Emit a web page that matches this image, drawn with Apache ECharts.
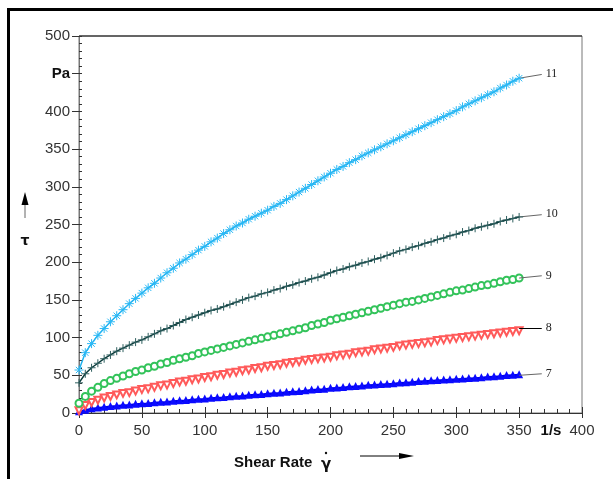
<!DOCTYPE html>
<html>
<head>
<meta charset="utf-8">
<script src="https://cdn.jsdelivr.net/npm/echarts@6/dist/echarts.min.js"></script>
<style>
  html, body { margin: 0; padding: 0; background: #fff; }
  #chart { width: 613px; height: 479px; }
</style>
</head>
<body>
<div id="chart"></div>
<script>
// shear rate, 1/s
var shearRate = [];
for (var i = 0; i <= 70; i++) shearRate.push(i * 5);

// shear stress, Pa
var tau11 = [57, 80, 92, 103, 112, 121, 129, 137, 145, 152, 159, 166, 172, 179, 186, 192, 199, 204, 210, 216,
  221, 227, 232, 238, 243, 248, 252, 257, 261, 265, 269, 274, 278, 283, 288, 293, 298, 303, 308, 313,
  318, 323, 327, 332, 336, 341, 345, 349, 353, 357, 361, 365, 369, 373, 377, 381, 385, 389, 393, 397,
  401, 406, 410, 414, 418, 422, 426, 431, 435, 440, 444];
var tau10 = [40, 52, 60, 66, 72, 77, 82, 86, 90, 94, 97, 101, 105, 109, 112, 116, 120, 124, 127, 130,
  133, 136, 138, 141, 144, 147, 150, 153, 155, 158, 160, 163, 165, 168, 170, 173, 175, 178, 180, 183,
  186, 189, 191, 194, 196, 199, 201, 204, 206, 209, 212, 215, 217, 220, 222, 225, 227, 230, 232, 235,
  237, 240, 242, 245, 247, 249, 251, 254, 256, 258, 260];
var tau9 = [13, 22, 29, 34, 39, 43, 46, 49, 52, 55, 57, 60, 62, 65, 67, 70, 72, 74, 76, 79,
  81, 83, 85, 87, 89, 91, 93, 95, 97, 99, 101, 103, 105, 107, 109, 111, 113, 116, 118, 120,
  123, 125, 127, 129, 131, 133, 135, 137, 139, 141, 143, 145, 147, 148, 150, 152, 154, 156, 158, 160,
  162, 163, 165, 167, 169, 170, 172, 174, 176, 177, 179];
var tau8 = [7, 14, 18, 21, 24, 26, 28, 30, 31, 33, 35, 36, 38, 40, 41, 43, 45, 46, 48, 49,
  51, 52, 54, 55, 57, 58, 60, 61, 63, 64, 66, 67, 68, 70, 71, 72, 74, 75, 76, 77,
  78, 80, 81, 82, 84, 85, 86, 88, 89, 90, 91, 93, 94, 95, 96, 97, 98, 100, 101, 102,
  103, 104, 105, 106, 107, 108, 109, 110, 111, 112, 113];
var tau7 = [1, 3, 5, 6, 7, 8, 8.5, 9.5, 10, 11, 11.5, 12, 13, 13.5, 14, 15, 15.5, 16, 17, 17.5,
  18, 19, 19.5, 20, 21, 21.5, 22, 23, 23.5, 24, 25, 25.5, 26, 27, 27.5, 28, 29, 30, 30.5, 31,
  32, 32.5, 33, 34, 34.5, 35, 36, 36.5, 37, 37.5, 38, 39, 39.5, 40, 41, 41.5, 42, 42.5, 43, 43.5,
  44, 44.5, 45, 45.5, 46, 47, 47.5, 48, 49, 49.5, 50];

var curveNames = ['11', '10', '9', '8', '7'];
// small lift of the label leader line at its far end (Pa)
var leaderLift = [5, 3, 3, 0, 2];

var xTicks = { min: 0, max: 400, interval: 50 };
var yTicks = { min: 0, max: 500, interval: 50 };

function pairs(ys) {
  return ys.map(function (y, i) { return [shearRate[i], y]; });
}

function leader(k, ys) {
  var last = ys[ys.length - 1];
  return {
    silent: true,
    symbol: 'none',
    animation: false,
    lineStyle: { color: k == 3 ? '#000' : '#666', width: 1, type: 'solid' },
    label: {
      show: true, position: 'end', distance: 4,
      formatter: curveNames[k],
      color: '#222', fontFamily: 'Liberation Serif', fontSize: 12
    },
    data: [[{ coord: [350, last] }, { coord: [368, last + leaderLift[k]] }]]
  };
}

var chart = echarts.init(document.getElementById('chart'));
var font = 'Liberation Sans';

var option = {
  animation: false,
  backgroundColor: '#fff',
  grid: {
    left: 79, top: 36, right: 31, bottom: 66,
    show: true, borderColor: '#777', borderWidth: 1,
    outerBoundsMode: 'none'
  },
  xAxis: [{
    type: 'value', min: xTicks.min, max: xTicks.max, interval: xTicks.interval,
    position: 'bottom',
    splitLine: { show: false },
    axisLine: { lineStyle: { color: '#333' } },
    axisTick: { inside: false, length: 5, lineStyle: { color: '#333' } },
    axisLabel: { color: '#333', fontSize: 15, fontFamily: font, margin: 10 }
  }, {
    type: 'value', min: xTicks.min, max: xTicks.max, interval: xTicks.interval,
    position: 'bottom',
    splitLine: { show: false },
    axisLine: { show: false },
    axisLabel: { show: false },
    axisTick: { inside: true, length: 6, lineStyle: { color: '#333' } },
    minorTick: { show: true, splitNumber: 5, length: 4, lineStyle: { color: '#333' } }
  }],
  yAxis: [{
    type: 'value', min: yTicks.min, max: yTicks.max, interval: yTicks.interval,
    position: 'left',
    splitLine: { show: false },
    axisLine: { lineStyle: { color: '#777' } },
    axisTick: { inside: false, length: 7, lineStyle: { color: '#333' } },
    axisLabel: {
      color: '#333', fontSize: 15, fontFamily: font, margin: 9,
      formatter: function (v) { return v === 450 ? '{b|Pa}' : String(v); },
      rich: { b: { fontWeight: 'bold', color: '#111', fontSize: 15, fontFamily: font } }
    }
  }, {
    type: 'value', min: yTicks.min, max: yTicks.max, interval: yTicks.interval,
    position: 'left',
    splitLine: { show: false },
    axisLine: { show: false },
    axisLabel: { show: false },
    axisTick: { inside: true, length: 3, lineStyle: { color: '#333' } },
    minorTick: { show: true, splitNumber: 5, length: 3, lineStyle: { color: '#333' } }
  }],
  series: [{
    name: '11', type: 'line', data: pairs(tau11),
    symbol: 'path://M5,0L5,10M0,5L10,5M1.5,1.5L8.5,8.5M8.5,1.5L1.5,8.5',
    symbolSize: 9,
    itemStyle: { color: '#29b8f5', borderColor: '#29b8f5', borderWidth: 1 },
    lineStyle: { color: '#1fb2f0', width: 1.5 },
    markLine: leader(0, tau11), z: 6
  }, {
    name: '10', type: 'line', data: pairs(tau10),
    symbol: 'path://M5,0L5,10M0,5L10,5',
    symbolSize: 8,
    itemStyle: { color: '#0d4040', borderColor: '#2f5f5f', borderWidth: 1 },
    lineStyle: { color: '#0a3a3a', width: 1.5 },
    markLine: leader(1, tau10), z: 5
  }, {
    name: '9', type: 'line', data: pairs(tau9),
    symbol: 'emptyCircle', symbolSize: 7,
    itemStyle: { color: '#33c35a', borderColor: '#33c35a', borderWidth: 1 },
    lineStyle: { color: '#33c35a', width: 1 },
    markLine: leader(2, tau9), z: 4
  }, {
    name: '8', type: 'line', data: pairs(tau8),
    symbol: 'emptyTriangle', symbolRotate: 180, symbolSize: 7, symbolOffset: [0, 3],
    itemStyle: { color: '#ff5a5a', borderColor: '#ff5a5a', borderWidth: 1 },
    lineStyle: { color: '#ff0000', width: 1.5 },
    markLine: leader(3, tau8), z: 3
  }, {
    name: '7', type: 'line', data: pairs(tau7),
    symbol: 'triangle', symbolSize: 8, symbolOffset: [0, -1],
    itemStyle: { color: '#0a0aff' },
    lineStyle: { color: '#0000ee', width: 3 },
    markLine: leader(4, tau7), z: 2
  }],
  graphic: [
    // outer frame
    { type: 'rect', shape: { x: 7, y: 8, width: 3, height: 480 }, style: { fill: '#000' } },
    { type: 'rect', shape: { x: 7, y: 8, width: 620, height: 3 }, style: { fill: '#000' } },
    // plot top edge
    { type: 'line', shape: { x1: 79, y1: 36, x2: 582, y2: 36 }, style: { stroke: '#111', lineWidth: 1 } },
    // y title with arrow
    { type: 'line', shape: { x1: 25, y1: 218, x2: 25, y2: 202 }, style: { stroke: '#666', lineWidth: 1 } },
    { type: 'polygon', shape: { points: [[25, 192], [21.5, 205], [28.5, 205]] }, style: { fill: '#000' } },
    { type: 'text', x: 25, y: 241, style: { text: 'τ', font: 'bold 14px "DejaVu Sans"', fill: '#111', align: 'center', verticalAlign: 'middle' } },
    // x title with arrow
    { type: 'text', x: 234, y: 463, style: { text: 'Shear Rate', font: 'bold 15px "Liberation Sans"', fill: '#111', align: 'left', verticalAlign: 'middle' } },
    { type: 'text', x: 326, y: 465, style: { text: 'γ', font: 'bold 15px "DejaVu Sans"', fill: '#111', align: 'center', verticalAlign: 'middle' } },
    { type: 'circle', shape: { cx: 326, cy: 453, r: 1.2 }, style: { fill: '#111' } },
    { type: 'line', shape: { x1: 360, y1: 456, x2: 400, y2: 456 }, style: { stroke: '#000', lineWidth: 1 } },
    { type: 'polygon', shape: { points: [[414, 456], [399, 453], [399, 459]] }, style: { fill: '#000' } },
    // unit of x axis
    { type: 'text', x: 551, y: 431, style: { text: '1/s', font: 'bold 15px "Liberation Sans"', fill: '#111', align: 'center', verticalAlign: 'middle' } }
  ]
};

chart.setOption(option);
</script>
</body>
</html>
